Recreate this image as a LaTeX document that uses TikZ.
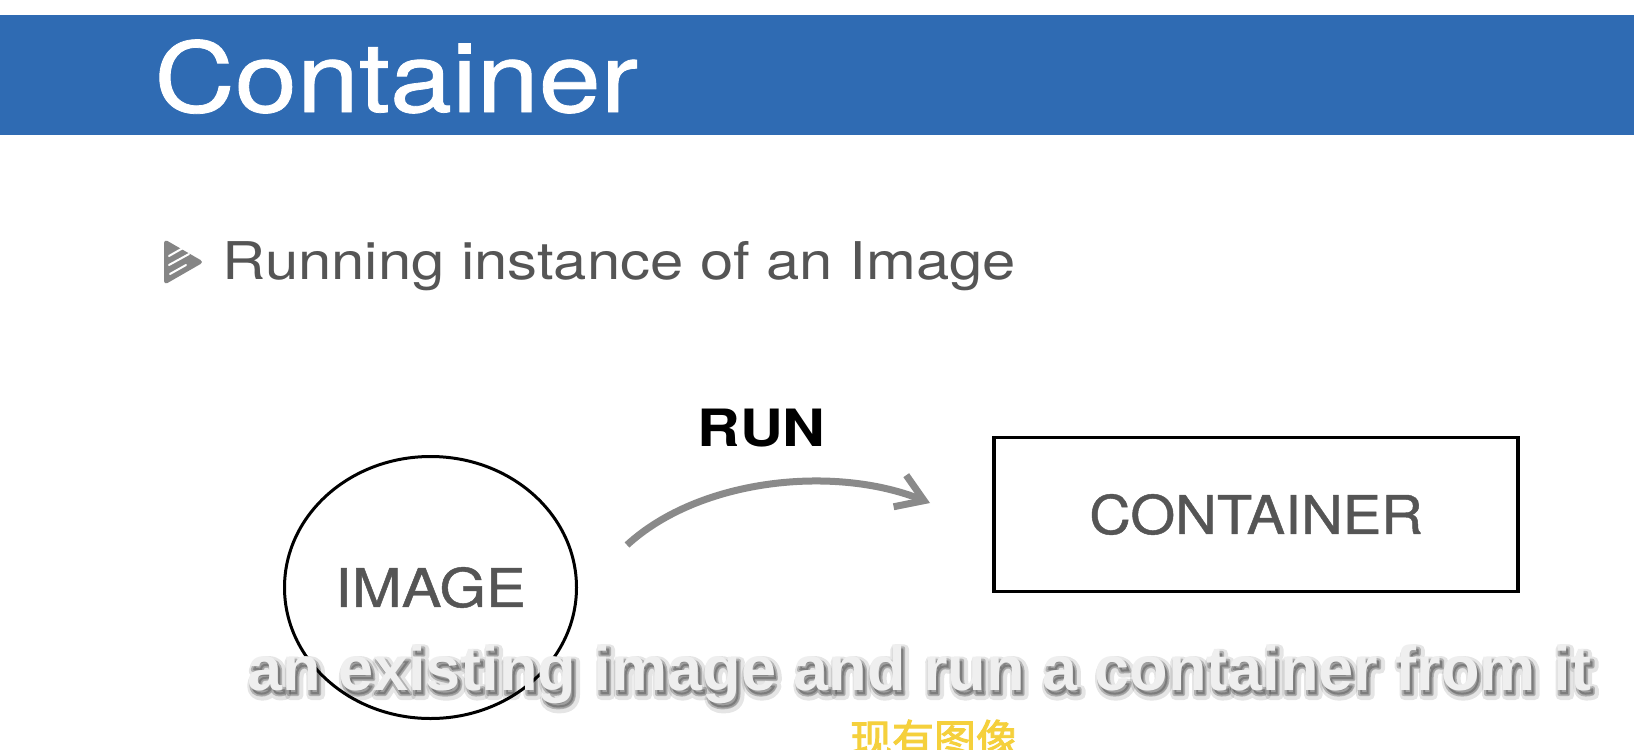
\documentclass[tikz,border=0pt]{standalone}
\usepackage{fontspec}
\setmainfont{TeX Gyre Heros}
\newfontfamily\medfont[FakeBold=0.8]{TeX Gyre Heros}
\newfontfamily\subfont{Liberation Sans}
\newfontfamily\cjk[FakeBold=2.2]{Noto Sans CJK SC}
\usetikzlibrary{shapes.geometric,arrows.meta}
\definecolor{barblue}{HTML}{2F6BB3}
\definecolor{txtgray}{HTML}{555555}
\definecolor{arrgray}{HTML}{8A8A8A}
\definecolor{bulgray}{HTML}{858585}
\definecolor{subyellow}{HTML}{F5D03C}
\definecolor{subwhite}{HTML}{EFEFEF}
\newcommand{\strokedtext}[2]{\special{pdf:literal direct #1 w 1 j 2 Tr}#2\special{pdf:literal direct 0 Tr}}
\begin{document}
\begin{tikzpicture}[x=0.5pt,y=-0.5pt,
  slidetext/.style={inner sep=0pt, text=txtgray},
  boxlabel/.style={inner sep=0pt, text=txtgray, font=\medfont\fontsize{26.7}{32}\selectfont},
  subline/.style={anchor=base west, inner sep=0pt, font=\subfont\bfseries\fontsize{31.5}{38}\selectfont}]
\useasboundingbox (0,0) rectangle (1634,750);
\fill[white] (0,0) rectangle (1634,750);
% title bar
\fill[barblue] (0,15) rectangle (1634,135);
\node[anchor=base west, inner sep=0pt, text=white, font=\medfont\fontsize{48.5}{58}\selectfont] (title) at (154,112) {\scalebox{1.15}[1]{Container}};
% bullet icon
\begin{scope}
  \fill[bulgray, rounded corners=2pt] (164,239) -- (204,262) -- (164,285) -- cycle;
  \draw[white, line width=1pt, line cap=round] (169,256) -- (183,248);
  \draw[white, line width=1pt, line cap=round] (169,265) -- (189,254);
  \draw[white, line width=1pt, line cap=round] (170,274) -- (186,265);
\end{scope}
\node[slidetext, anchor=base west, font=\fontsize{26}{31}\selectfont] (bullet) at (222,279) {\scalebox{1.15}[1]{Running instance of an Image}};
% diagram
\node[ellipse, draw=black, line width=1.5pt, minimum width=146pt, minimum height=131pt, boxlabel] (image) at (430.5,587.5) {\scalebox{1.12}[1]{IMAGE}};
\node[rectangle, draw=black, line width=1.75pt, minimum width=262pt, minimum height=77pt, boxlabel] (container) at (1256,514.5) {\scalebox{1.08}[1]{CONTAINER}};
\node[inner sep=0pt, text=black, font=\bfseries\fontsize{25.7}{31}\selectfont] (run) at (761.5,428.5) {\scalebox{1.15}[1]{RUN}};
\coordinate (runstart) at (627,545);
\coordinate (runend) at (930,503);
\draw[arrgray, line width=3.5pt, -{Straight Barb[length=13pt,width=17pt]}] (runstart) .. controls (700,478) and (835,465) .. (runend);
% subtitle with soft shadow
\node[subline, text=black, opacity=0.10] (shadowwide) at (250,695) {\strokedtext{5}{an existing image and run a container from it}};
\node[subline, text=black, opacity=0.22] (shadownarrow) at (249,694) {\strokedtext{2}{an existing image and run a container from it}};
\node[subline, text=subwhite] (subtitle) at (247,690) {an existing image and run a container from it};
\node[anchor=base, inner sep=0pt, text=subyellow, font=\cjk\fontsize{21}{25}\selectfont] (cn) at (934,755) {现有图像};
\end{tikzpicture}
\end{document}
